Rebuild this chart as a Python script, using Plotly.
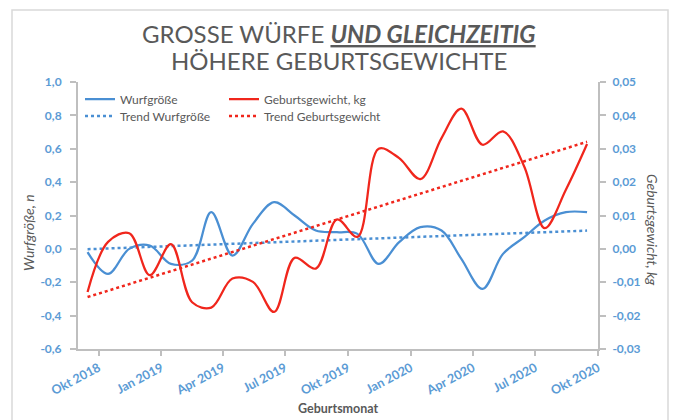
import numpy as np
import pandas as pd
import plotly.graph_objects as go

# ---------------- data ----------------
months = pd.date_range("2018-09-01", periods=25, freq="MS")
wurfgroesse = [-0.02, -0.15, 0.00, 0.02, -0.09, -0.07, 0.22, -0.04, 0.15, 0.28,
               0.20, 0.11, 0.10, 0.09, -0.09, 0.04, 0.13, 0.11, -0.06, -0.24,
               -0.03, 0.07, 0.17, 0.22, 0.22]
geburtsgewicht = [-0.0129, 0.0021, 0.0047, -0.0079, 0.0014, -0.0160, -0.0176, -0.0089,
                  -0.0099, -0.0189, -0.0027, -0.0059, 0.0088, 0.0036, 0.0300, 0.0272,
                  0.0209, 0.0332, 0.0420, 0.0312, 0.0352, 0.0247, 0.0062, 0.0177, 0.0314]

x_tick_vals = ["2018-10-01", "2019-01-01", "2019-04-01", "2019-07-01", "2019-10-01",
               "2020-01-01", "2020-04-01", "2020-07-01", "2020-10-01"]
x_tick_text = ["Okt 2018", "Jan 2019", "Apr 2019", "Jul 2019", "Okt 2019",
               "Jan 2020", "Apr 2020", "Jul 2020", "Okt 2020"]
left_tick_vals = [1.0, 0.8, 0.6, 0.4, 0.2, 0.0, -0.2, -0.4, -0.6]
left_tick_text = ["1,0", "0,8", "0,6", "0,4", "0,2", "0,0", "-0,2", "-0,4", "-0,6"]
right_tick_vals = [0.05, 0.04, 0.03, 0.02, 0.01, 0.0, -0.01, -0.02, -0.03]
right_tick_text = ["0,05", "0,04", "0,03", "0,02", "0,01", "0,00", "-0,01", "-0,02", "-0,03"]

# ---------------- derived (linear trend, as Excel's trendline) ----------------
x_mid = months + pd.Timedelta(days=14)
days = np.array([(d - x_mid[0]).days for d in x_mid], dtype=float)
trend_w = np.polyval(np.polyfit(days, wurfgroesse, 1), days)
trend_g = np.polyval(np.polyfit(days, geburtsgewicht, 1), days)

# ---------------- layout geometry (page pixels; page body has 8px margin) ----------------
OFF = 8
PAGE_W, PAGE_H = 678, 420
W, H = PAGE_W - OFF, PAGE_H - OFF
L, R, T, B = 78, 598, 82, 349  # plot area in page pixels


def px(x):
    return (x - L) / (R - L)


def py(y):
    return (B - y) / (B - T)


BLUE = "#4A8FD3"
RED = "#F0261C"
TICKBLUE = "#5B9BD5"
GRAY = "#595959"
AXGRAY = "#BFBFBF"
FONT = "Lato"

tickfont = dict(family=FONT, size=12, color=TICKBLUE, weight="bold")
xtickfont = dict(family=FONT, size=12.5, color=TICKBLUE, weight="bold")
legfont = dict(family=FONT, size=12, color=GRAY)

fig = go.Figure()
fig.add_trace(go.Scatter(x=x_mid, y=wurfgroesse, name="Wurfgröße", mode="lines",
                         line=dict(color=BLUE, width=2.25, shape="spline", smoothing=1),
                         legend="legend"))
fig.add_trace(go.Scatter(x=x_mid, y=geburtsgewicht, name="Geburtsgewicht, kg", mode="lines",
                         yaxis="y2",
                         line=dict(color=RED, width=2.25, shape="spline", smoothing=1),
                         legend="legend2"))
fig.add_trace(go.Scatter(x=x_mid, y=trend_w, name="Trend Wurfgröße", mode="lines",
                         line=dict(color=BLUE, width=2.5, dash="dot"),
                         legend="legend3"))
fig.add_trace(go.Scatter(x=x_mid, y=trend_g, name="Trend Geburtsgewicht", mode="lines",
                         yaxis="y2",
                         line=dict(color=RED, width=2.5, dash="dot"),
                         legend="legend4"))


def leg(text_x, center_y):
    return dict(orientation="v", x=px(text_x - 42), xanchor="left",
                y=py(center_y), yanchor="middle", font=legfont,
                bgcolor="rgba(0,0,0,0)", borderwidth=0)


axis_common = dict(showgrid=False, zeroline=False,
                   showline=True, linecolor=AXGRAY, linewidth=2,
                   ticks="outside", tickcolor=AXGRAY, tickwidth=1.5)

fig.update_layout(
    width=W, height=H, autosize=False,
    margin=dict(l=L - OFF, r=PAGE_W - R, t=T - OFF, b=PAGE_H - B, pad=0),
    paper_bgcolor="white", plot_bgcolor="white",
    xaxis=dict(type="date", range=["2018-09-01", "2020-10-01"],
               tickvals=x_tick_vals, ticktext=x_tick_text, tickangle=-28,
               ticklen=5, tickfont=xtickfont, **axis_common),
    yaxis=dict(range=[-0.6, 1.0], tickvals=left_tick_vals, ticktext=left_tick_text,
               ticklen=6, ticklabelstandoff=6, tickfont=tickfont, **axis_common),
    yaxis2=dict(range=[-0.03, 0.05], tickvals=right_tick_vals, ticktext=right_tick_text,
                overlaying="y", side="right", ticklen=6, ticklabelstandoff=4,
                tickfont=tickfont, **axis_common),
    legend=leg(122, 99),
    legend2=leg(266, 99),
    legend3=leg(122, 116),
    legend4=leg(266, 116),
    showlegend=True,
)

# title (two lines)
fig.add_annotation(text="GROSSE WÜRFE <b><i><u>UND GLEICHZEITIG</u></i></b>",
                   xref="paper", yref="paper", x=px(339), y=py(33),
                   xanchor="center", yanchor="middle", showarrow=False,
                   font=dict(family=FONT, size=24, color=GRAY))
fig.add_annotation(text="HÖHERE GEBURTSGEWICHTE",
                   xref="paper", yref="paper", x=px(339), y=py(60),
                   xanchor="center", yanchor="middle", showarrow=False,
                   font=dict(family=FONT, size=24, color=GRAY))

# axis titles
fig.add_annotation(text="<i>Wurfgröße, n</i>", xref="paper", yref="paper",
                   x=px(28), y=py(233), xanchor="center", yanchor="middle",
                   textangle=-90, showarrow=False,
                   font=dict(family=FONT, size=14, color=GRAY))
fig.add_annotation(text="<i>Geburtsgewicht, kg</i>", xref="paper", yref="paper",
                   x=px(653), y=py(230), xanchor="center", yanchor="middle",
                   textangle=90, showarrow=False,
                   font=dict(family=FONT, size=14, color=GRAY))
fig.add_annotation(text="<b>Geburtsmonat</b>", xref="paper", yref="paper",
                   x=px(338), y=py(408), xanchor="center", yanchor="middle",
                   showarrow=False,
                   font=dict(family=FONT, size=12.5, color=GRAY))

# chart-area frame
fig.add_shape(type="rect", xref="paper", yref="paper",
              x0=px(12), x1=px(668), y0=py(440), y1=py(10),
              line=dict(color="#D9D9D9", width=1.5), fillcolor="rgba(0,0,0,0)", layer="above")

fig.write_html("out.html")
